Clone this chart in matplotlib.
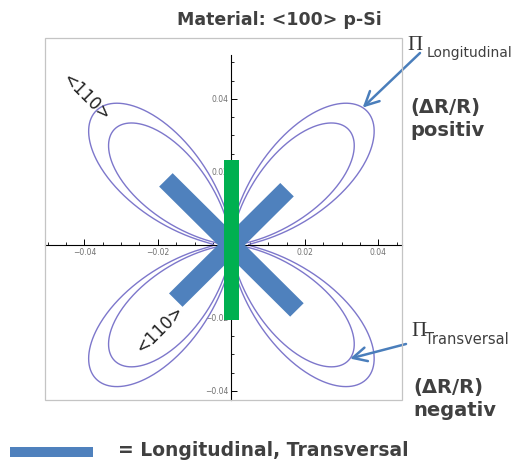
import numpy as np
import matplotlib.pyplot as plt
from matplotlib.patches import Rectangle

W, H = 518, 463

# polar curves of the piezo coefficients: radius along <100> and along <110>
curve_names = ["Longitudinal", "Transversal"]
r_100 = [0.0048, 0.0008]
r_110 = [0.0520, 0.0449]
arrow_angle = [46.5, -44.0]     # where the arrows touch each curve (deg)

# resistor arms (blue X) and the green bar
arm_angle = [135, 45]
arm_half = [0.0252, 0.0214]
arm_width = 0.0052
bar_x = [-0.0021, 0.0020]
bar_y = [-0.0205, 0.0233]

tick_vals = [-0.04, -0.02, 0.02, 0.04]

BLUE = '#4f81bd'
GREEN = '#00b050'
CURVE = '#7d77cb'
TXT = '#404040'
FONT = 'DejaVu Sans'


def fpx(x, y):
    # pixel position -> figure fraction
    return x / W, 1 - y / H


def radius(i, th):
    return r_100[i] + (r_110[i] - r_100[i]) * np.sin(2 * th) ** 2


fig = plt.figure(figsize=(W / 100, H / 100), dpi=100)
ax = fig.add_axes([45 / W, 1 - 400 / H, 357 / W, 362 / H])
ax.set_xlim(-0.0507, 0.0464)
ax.set_ylim(-0.0425, 0.0567)

# axes through the origin
for s in ['top', 'right']:
    ax.spines[s].set_visible(False)
ax.spines['left'].set_position(('data', 0))
ax.spines['bottom'].set_position(('data', 0))
ax.spines['left'].set_bounds(-0.0425, 0.052)
for s in ['left', 'bottom']:
    ax.spines[s].set_linewidth(0.8)

labels = [f"{v:.2f}".replace('-', '\u2212') for v in tick_vals]
ax.set_xticks(tick_vals)
ax.set_xticklabels(labels)
ax.set_yticks(tick_vals)
ax.set_yticklabels(labels)
ax.set_xticks(np.arange(-0.05, 0.0465, 0.005), minor=True)
ax.set_yticks(np.arange(-0.04, 0.0525, 0.005), minor=True)
ax.tick_params(which='major', direction='in', length=4, width=0.7,
               labelsize=5.5, labelcolor='#707070', pad=2)
ax.tick_params(which='minor', direction='in', length=2.2, width=0.6)

# frame
ax.add_patch(Rectangle((0, 0), 1, 1, transform=ax.transAxes, fill=False,
                       ec='#c4c4c4', lw=0.9, clip_on=False, zorder=6))

th = np.linspace(0, 2 * np.pi, 1441)
for i in range(len(curve_names)):
    r = radius(i, th)
    ax.plot(r * np.cos(th), r * np.sin(th), color=CURVE, lw=1.0, zorder=2)

for ang, L in zip(arm_angle, arm_half):
    ax.add_patch(Rectangle((-L, -arm_width / 2), 2 * L, arm_width, angle=ang,
                           rotation_point='center', color=BLUE, lw=0, zorder=3))
ax.add_patch(Rectangle((bar_x[0], bar_y[0]), bar_x[1] - bar_x[0],
                       bar_y[1] - bar_y[0], color=GREEN, lw=0, zorder=4))

ax.text(-0.0396, 0.0405, '<110>', rotation=-45, ha='center', va='center',
        fontsize=12, color='#222222', family=FONT, zorder=5)
ax.text(-0.0195, -0.0230, '<110>', rotation=45, ha='center', va='center',
        fontsize=12, color='#222222', family=FONT, zorder=5)

# arrows from the labels to the curves
tails = [fpx(420, 53), fpx(406, 344)]
for i in range(len(curve_names)):
    a = np.deg2rad(arrow_angle[i])
    r = radius(i, a)
    ax.annotate('', xy=(r * np.cos(a), r * np.sin(a)), xycoords='data',
                xytext=tails[i], textcoords='figure fraction',
                annotation_clip=False,
                arrowprops=dict(arrowstyle='->,head_length=0.5,head_width=0.25',
                                color='#4a7ebb', lw=1.8, shrinkA=0, shrinkB=0,
                                mutation_scale=20))

# texts around the plot
fig.text(*fpx(279, 20), 'Material: <100> p-Si', ha='center', va='center',
         fontsize=12.5, weight='bold', color=TXT, family=FONT)

fig.text(*fpx(407, 46), '\u03a0', ha='left', va='center', fontsize=15,
         family='Liberation Serif', color='#333333')
fig.text(*fpx(427, 53), curve_names[0], ha='left', va='center', fontsize=10,
         color=TXT, family=FONT)
fig.text(*fpx(410, 107), '(\u0394R/R)', ha='left', va='center', fontsize=14,
         weight='bold', color=TXT, family=FONT)
fig.text(*fpx(410, 131), 'positiv', ha='left', va='center', fontsize=14,
         weight='bold', color=TXT, family=FONT)

fig.text(*fpx(411, 331), '\u03a0', ha='left', va='center', fontsize=15,
         family='Liberation Serif', color='#333333')
fig.text(*fpx(425, 339), curve_names[1], ha='left', va='center', fontsize=10.5,
         color=TXT, family=FONT)
fig.text(*fpx(413, 388), '(\u0394R/R)', ha='left', va='center', fontsize=14,
         weight='bold', color=TXT, family=FONT)
fig.text(*fpx(413, 410), 'negativ', ha='left', va='center', fontsize=14,
         weight='bold', color=TXT, family=FONT)

# legend swatch
fig.patches.append(Rectangle(fpx(10, 457), 83 / W, 10 / H, color=BLUE, lw=0,
                             transform=fig.transFigure, figure=fig))
fig.text(*fpx(118, 451), '= Longitudinal, Transversal', ha='left', va='center',
         fontsize=13.5, weight='bold', color=TXT, family=FONT)

fig.savefig('out.png', dpi=100)
